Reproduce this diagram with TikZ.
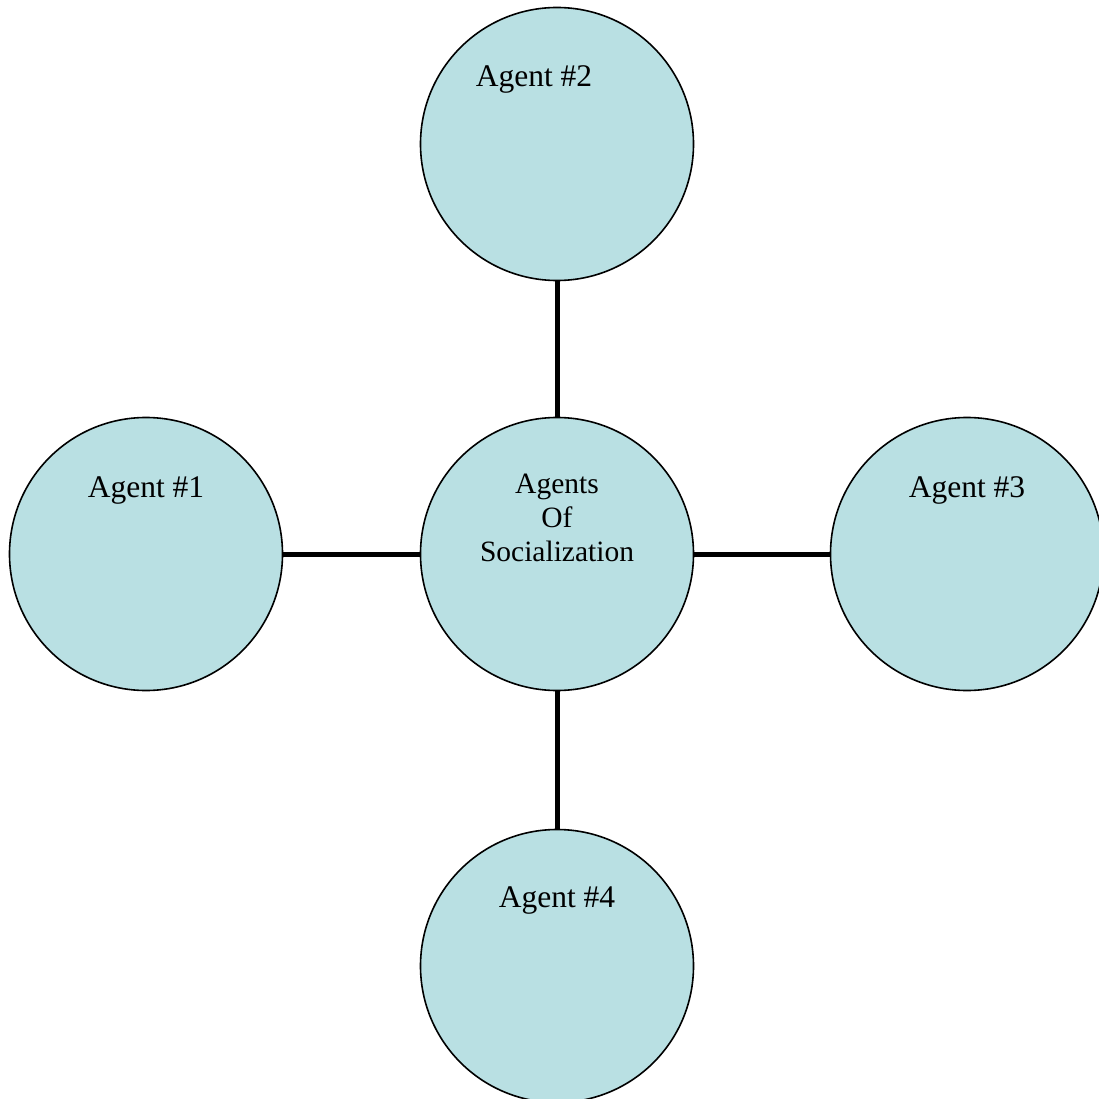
\documentclass[tikz,border=0pt]{standalone}
\usepackage{fontspec}
\setmainfont{Liberation Serif}
\definecolor{agentfill}{HTML}{B9E0E3}
\begin{document}
\begin{tikzpicture}[x=1pt,y=-1pt,
  agent/.style={circle,draw=black,line width=1.6pt,fill=agentfill,minimum size=273pt,inner sep=0pt},
  conn/.style={line width=5pt,draw=black},
  lbl/.style={font=\fontsize{31.5}{34}\selectfont,inner sep=0pt,anchor=center},
  clbl/.style={font=\fontsize{29.5}{34}\selectfont,inner sep=0pt,align=center,anchor=center}]
\useasboundingbox (0,0) rectangle (1099,1099);
\clip (0,0) rectangle (1099,1099);
\node[agent] (c) at (557,554) {};
\node[agent] (a2) at (557,144) {};
\node[agent] (a1) at (146,554) {};
\node[agent] (a3) at (967,554) {};
\node[agent] (a4) at (557,966) {};
\draw[conn] (c) -- (a2);
\draw[conn] (c) -- (a1);
\draw[conn] (c) -- (a3);
\draw[conn] (c) -- (a4);
\node[lbl] (t2) at (534,79) {Agent \#2};
\node[lbl] (t1) at (146,490) {Agent \#1};
\node[lbl] (t3) at (967,490) {Agent \#3};
\node[lbl] (t4) at (557,900) {Agent \#4};
\node[clbl] (tc) at (557,518) {Agents\\Of\\Socialization};
\end{tikzpicture}
\end{document}
